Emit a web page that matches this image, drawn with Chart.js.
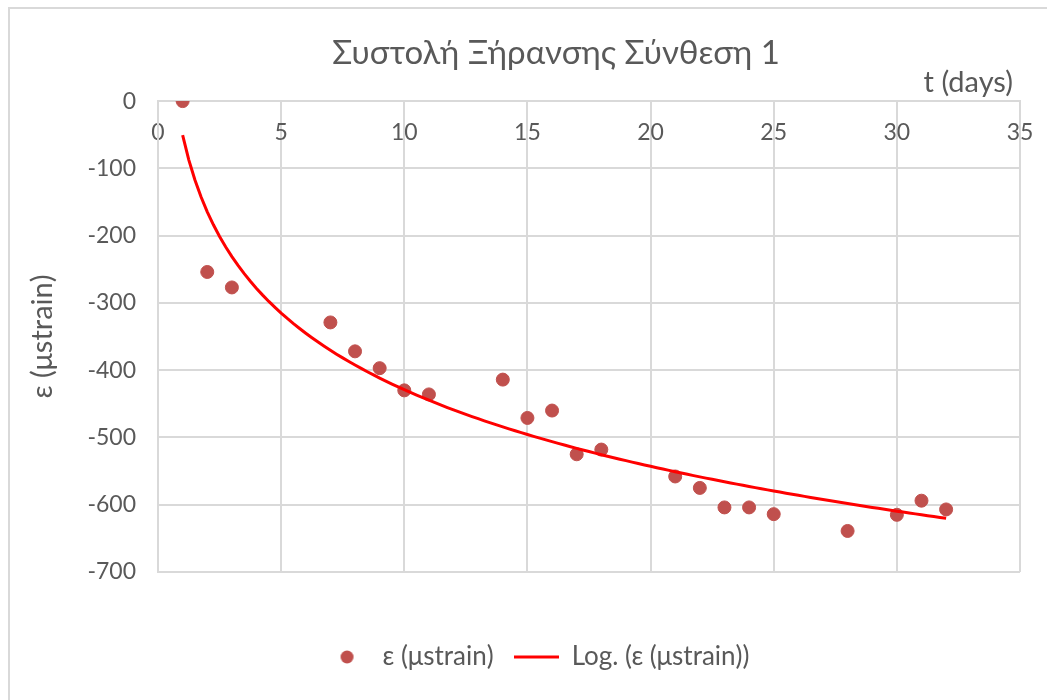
<!DOCTYPE html>
<html>
<head>
<meta charset="utf-8">
<title>Συστολή Ξήρανσης Σύνθεση 1</title>
<script src="https://cdn.jsdelivr.net/npm/chart.js@4"></script>
<style>
  body { margin: 0; background: #fff; }
  #frame { position: absolute; left: 8px; top: 7px; width: 1060px; height: 720px; border: 2px solid #d9d9d9; }
  canvas { display: block; }
</style>
</head>
<body>
<div id="frame"><canvas id="shrinkChart" width="1037" height="691"></canvas></div>
<script>
// μετρήσεις (t σε ημέρες, ε σε μstrain)
const days = [1, 2, 3, 7, 8, 9, 10, 11, 14, 15, 16, 17, 18, 21, 22, 23, 24, 25, 28, 30, 31, 32];
const strain = [0, -254, -277, -329, -372, -397, -430, -436, -414, -471, -460, -525, -518, -558, -575, -604, -604, -614, -639, -615, -594, -607];

const xTicks = [0, 5, 10, 15, 20, 25, 30, 35];
const yTicks = [0, -100, -200, -300, -400, -500, -600, -700];

const TITLE = "Συστολή Ξήρανσης Σύνθεση 1";
const X_TITLE = "t (days)";
const TEXT = "#595959";
const GRID = "#d9d9d9";
const FONT = "Lato, 'Open Sans', sans-serif";

// λογαριθμική γραμμή τάσης (ελάχιστα τετράγωνα, y = a ln x + b), όπως στο Excel
const lnX = days.map((d) => Math.log(d));
const n = days.length;
const mL = lnX.reduce((s, v) => s + v, 0) / n;
const mY = strain.reduce((s, v) => s + v, 0) / n;
let sxy = 0, sxx = 0;
lnX.forEach((l, i) => { sxy += (l - mL) * (strain[i] - mY); sxx += (l - mL) * (l - mL); });
const slope = sxy / sxx;
const icpt = mY - slope * mL;
const trend = [];
for (let t = days[0]; t <= days[days.length - 1] + 1e-9; t += 0.25) {
  trend.push({ x: t, y: slope * Math.log(t) + icpt });
}

// σύμβολα υπομνήματος
const legendDot = document.createElement("canvas");
legendDot.width = 45; legendDot.height = 14;
{
  const c = legendDot.getContext("2d");
  c.fillStyle = "#C0504D";
  c.beginPath(); c.arc(22.5, 7, 6.5, 0, Math.PI * 2); c.fill();
}
const legendLine = document.createElement("canvas");
legendLine.width = 45; legendLine.height = 4;
{
  const c = legendLine.getContext("2d");
  c.fillStyle = "#FF0000";
  c.fillRect(0, 0.5, 45, 3);
}

// μετακίνηση τίτλων/υπομνήματος όπως στο Excel
const nudgeBoxes = {
  id: "nudgeBoxes",
  afterLayout(chart) {
    chart.boxes.forEach((b) => {
      if (b.options && b.options.text === TITLE) b.left += 72;
      if (b.options && b.options.text === X_TITLE) b.right -= 7;
    });
    if (chart.legend) chart.legend.left += 34;
  },
};

new Chart(document.getElementById("shrinkChart"), {
  type: "scatter",
  data: {
    datasets: [
      {
        label: "ε (μstrain)",
        data: days.map((d, i) => ({ x: d, y: strain[i] })),
        backgroundColor: "#C0504D",
        borderColor: "#C0504D",
        pointRadius: 6.5,
        pointHoverRadius: 6.5,
        order: 2,
      },
      {
        label: "Log. (ε (μstrain))",
        data: trend,
        showLine: true,
        borderColor: "#FF0000",
        backgroundColor: "#FF0000",
        borderWidth: 3,
        pointRadius: 0,
        fill: false,
        order: 1,
      },
    ],
  },
  plugins: [nudgeBoxes],
  options: {
    responsive: false,
    animation: false,
    layout: { padding: { left: 10, right: 27, top: 0, bottom: 20 } },
    plugins: {
      title: {
        display: true,
        text: TITLE,
        color: TEXT,
        font: { family: FONT, size: 33, weight: "normal", lineHeight: 1 },
        padding: { top: 28, bottom: 0 },
      },
      subtitle: {
        display: true,
        text: X_TITLE,
        align: "end",
        color: TEXT,
        font: { family: FONT, size: 29, weight: "normal", lineHeight: 0.9 },
        padding: { top: 0, bottom: 5 },
      },
      legend: {
        position: "bottom",
        labels: {
          usePointStyle: true,
          pointStyleWidth: 45,
          boxHeight: 14,
          padding: 20,
          color: TEXT,
          font: { family: FONT, size: 26 },
          sort: (a, b) => a.datasetIndex - b.datasetIndex,
          generateLabels(chart) {
            const items = Chart.defaults.plugins.legend.labels.generateLabels(chart);
            items.forEach((it) => {
              it.pointStyle = it.datasetIndex === 0 ? legendDot : legendLine;
            });
            return items;
          },
        },
      },
      tooltip: { enabled: false },
    },
    scales: {
      x: {
        type: "linear",
        position: { y: 0 },
        min: 0,
        max: 35,
        afterBuildTicks: (s) => { s.ticks = xTicks.map((v) => ({ value: v })); },
        afterFit: (s) => { s.paddingLeft = 0; s.paddingRight = 0; },
        grid: { color: GRID, lineWidth: 2, drawTicks: false },
        border: { color: GRID, width: 2 },
        ticks: { color: TEXT, padding: 18, font: { family: FONT, size: 23 } },
        title: { display: false },
      },
      // κενός χώρος κάτω από την περιοχή σχεδίασης
      gap: {
        type: "linear",
        axis: "x",
        position: "bottom",
        display: true,
        afterFit: (s) => { s.height = 52; s.paddingLeft = 0; s.paddingRight = 0; },
        grid: { display: false },
        border: { display: false },
        ticks: { display: false },
      },
      y: {
        type: "linear",
        position: "left",
        min: -700,
        max: 0,
        afterBuildTicks: (s) => { s.ticks = yTicks.map((v) => ({ value: v })); },
        afterFit: (s) => { s.width = 138; },
        grid: { color: GRID, lineWidth: 2, drawTicks: false },
        border: { color: GRID, width: 2 },
        ticks: { color: TEXT, padding: 22, font: { family: FONT, size: 23 } },
        title: {
          display: true,
          text: "ε (μstrain)",
          color: TEXT,
          font: { family: FONT, size: 29 },
          padding: { top: 5, bottom: 0 },
        },
      },
    },
  },
});
</script>
</body>
</html>
